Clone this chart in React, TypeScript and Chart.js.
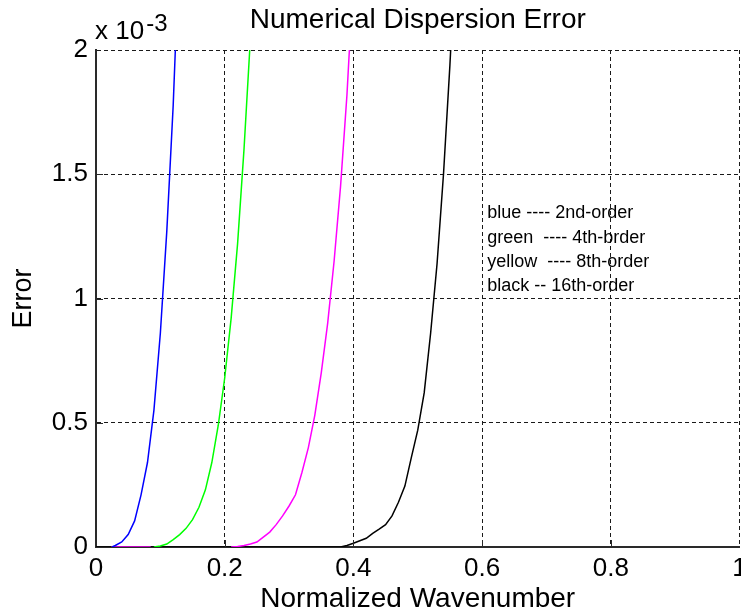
import React, { useEffect, useRef } from "react";
import { Chart, registerables } from "chart.js";

Chart.register(...registerables);

// ---- data (y values in units of 1e-3) ----
const blueX = [0.025, 0.03, 0.04, 0.05, 0.06, 0.07, 0.08, 0.09, 0.1, 0.11, 0.12, 0.13];
const blueY = [0, 0.006, 0.02, 0.05, 0.105, 0.21, 0.34, 0.55, 0.86, 1.27, 1.78, 2.45];

const greenX = [0.09, 0.1, 0.11, 0.12, 0.13, 0.14, 0.15, 0.16, 0.17, 0.18, 0.19, 0.2, 0.21, 0.22, 0.23, 0.24, 0.25];
const greenY = [0, 0.004, 0.012, 0.03, 0.05, 0.075, 0.11, 0.16, 0.23, 0.34, 0.49, 0.68, 0.92, 1.22, 1.6, 2.05, 2.6];

const magentaX = [0.024, 0.085, 0.15, 0.21, 0.22, 0.23, 0.24, 0.25, 0.26, 0.27, 0.28, 0.29, 0.3, 0.31, 0.32, 0.33, 0.34, 0.35, 0.36, 0.37, 0.38, 0.39, 0.4];
const magentaY = [0, 0, null, 0, 0.002, 0.006, 0.012, 0.02, 0.04, 0.06, 0.09, 0.125, 0.165, 0.21, 0.3, 0.4, 0.53, 0.7, 0.9, 1.15, 1.45, 1.82, 2.3];

const blackX = [0, 0.38, 0.39, 0.4, 0.41, 0.42, 0.43, 0.44, 0.45, 0.46, 0.47, 0.48, 0.49, 0.5, 0.51, 0.52, 0.53, 0.54, 0.55, 0.56];
const blackY = [0, 0, 0.006, 0.015, 0.025, 0.035, 0.055, 0.072, 0.09, 0.125, 0.18, 0.245, 0.36, 0.47, 0.62, 0.86, 1.14, 1.5, 1.94, 2.45];

const X_MIN = 0;
const X_MAX = 1;
const X_STEP = 0.2;
const Y_MIN = 0;
const Y_MAX = 2e-3;
const Y_STEP = 0.5e-3;
const Y_SCALE_FACTOR = 1000;

const TITLE = "Numerical Dispersion Error";
const X_LABEL = "Normalized Wavenumber";
const Y_LABEL = "Error";
const EXP_BASE = "x 10";
const EXP_POWER = "-3";

const NOTE_LINES = [
  "blue ---- 2nd-order",
  "green  ---- 4th-brder",
  "yellow  ---- 8th-order",
  "black -- 16th-order",
];
const NOTE_X = 0.608;
const NOTE_Y = [1.324, 1.223, 1.127, 1.03]; // x1e-3

const FONT = "'Liberation Sans', Arial, Helvetica, sans-serif";

const toPoints = (xs: number[], ys: (number | null)[]) =>
  xs.map((x, i) => ({ x, y: ys[i] == null ? null : (ys[i] as number) * 1e-3 }));

const overlayPlugin = {
  id: "overlay",
  afterDraw(chart: any) {
    const { ctx, chartArea, scales } = chart;
    const xs = scales.x;
    const ys = scales.y;
    ctx.save();
    // inner tick marks (MATLAB style)
    ctx.strokeStyle = "#2a2a2a";
    ctx.lineWidth = 1;
    ctx.setLineDash([]);
    for (let v = X_MIN + X_STEP; v < X_MAX - 1e-9; v += X_STEP) {
      const px = Math.round(xs.getPixelForValue(v)) + 0.5;
      ctx.beginPath();
      ctx.moveTo(px, chartArea.bottom);
      ctx.lineTo(px, chartArea.bottom - 7);
      ctx.stroke();
    }
    for (let v = Y_MIN + Y_STEP; v < Y_MAX - 1e-12; v += Y_STEP) {
      const py = Math.round(ys.getPixelForValue(v)) + 0.5;
      ctx.beginPath();
      ctx.moveTo(chartArea.left, py);
      ctx.lineTo(chartArea.left + 7, py);
      ctx.stroke();
    }

    ctx.fillStyle = "#000";
    // title
    ctx.font = `28px ${FONT}`;
    ctx.textAlign = "center";
    ctx.textBaseline = "alphabetic";
    ctx.fillText(TITLE, (chartArea.left + chartArea.right) / 2, chartArea.top - 22);

    // exponent label
    ctx.textAlign = "left";
    ctx.font = `26px ${FONT}`;
    ctx.fillText(EXP_BASE, chartArea.left - 1, chartArea.top - 11);
    const w = ctx.measureText(EXP_BASE).width;
    ctx.font = `24px ${FONT}`;
    ctx.fillText(EXP_POWER, chartArea.left - 1 + w + 2, chartArea.top - 19);

    // notes
    ctx.font = `18px ${FONT}`;
    NOTE_LINES.forEach((t, i) => {
      ctx.fillText(t, xs.getPixelForValue(NOTE_X), ys.getPixelForValue(NOTE_Y[i] * 1e-3));
    });
    ctx.restore();
  },
};

export default function App() {
  const ref = useRef<HTMLCanvasElement | null>(null);
  useEffect(() => {
    if (!ref.current) return;
    const gridColor = (c: any) => (c.tick && Math.abs(c.tick.value) < 1e-12 ? "rgba(0,0,0,0)" : "#1a1a1a");
    const chart = new Chart(ref.current, {
      type: "line",
      data: {
        datasets: [
          { label: "blue", data: toPoints(blueX, blueY), borderColor: "#0000ff" },
          { label: "green", data: toPoints(greenX, greenY), borderColor: "#00ff00" },
          { label: "magenta", data: toPoints(magentaX, magentaY), borderColor: "#ff00ff" },
          { label: "black", data: toPoints(blackX, blackY), borderColor: "#000000" },
        ].map((d) => ({
          ...d,
          borderWidth: 1.5,
          pointRadius: 0,
          tension: 0,
          fill: false,
          spanGaps: false,
        })),
      },
      options: {
        responsive: false,
        animation: false,
        parsing: true,
        layout: { padding: { left: 0, right: 1.5, top: 50, bottom: 0 } },
        plugins: {
          legend: { display: false },
          title: { display: false },
          tooltip: { enabled: false },
        },
        scales: {
          x: {
            type: "linear",
            min: X_MIN,
            max: X_MAX,
            ticks: {
              stepSize: X_STEP,
              color: "#000",
              font: { family: FONT, size: 26, lineHeight: 1.2 },
              padding: 6,
              maxRotation: 0,
              autoSkip: false,
              callback: (v: any) => String(Number(Number(v).toFixed(2))),
            },
            grid: { color: gridColor, lineWidth: 1, drawTicks: false },
            border: { display: true, color: "#2a2a2a", width: 2, dash: [4, 3] },
            title: {
              display: true,
              text: X_LABEL,
              color: "#000",
              font: { family: FONT, size: 28, lineHeight: 1 },
              padding: { top: 0, bottom: 2 },
            },
            afterFit: (s: any) => {
              s.height = 68;
              s.paddingLeft = 0;
              s.paddingRight = 0;
            },
          },
          y: {
            type: "linear",
            min: Y_MIN,
            max: Y_MAX,
            ticks: {
              stepSize: Y_STEP,
              color: "#000",
              font: { family: FONT, size: 26, lineHeight: 1.2 },
              padding: 8,
              callback: (v: any) => String(Number((Number(v) * Y_SCALE_FACTOR).toFixed(3))),
            },
            grid: { color: gridColor, lineWidth: 1, drawTicks: false },
            border: { display: true, color: "#2a2a2a", width: 2, dash: [4, 3] },
            title: {
              display: true,
              text: Y_LABEL,
              color: "#000",
              font: { family: FONT, size: 27, lineHeight: 1 },
              padding: { top: 10, bottom: 0 },
            },
            afterFit: (s: any) => {
              s.width = 96;
              s.paddingTop = 0;
              s.paddingBottom = 0;
            },
          },
        },
      },
      plugins: [overlayPlugin],
    });
    return () => chart.destroy();
  }, []);

  return (
    <div style={{ position: "fixed", left: 0, top: 0, width: 741, height: 615, background: "#fff" }}>
      <canvas ref={ref} width={741} height={615} style={{ display: "block" }} />
    </div>
  );
}
